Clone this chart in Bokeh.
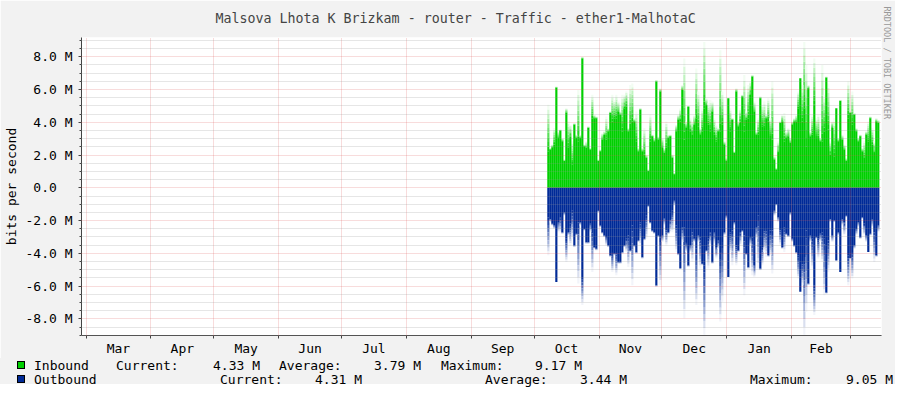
import numpy as np
from bokeh.plotting import figure
from bokeh.layouts import column
from bokeh.models import Range1d, FixedTicker, Title, Div
from bokeh.embed import file_html
from bokeh.resources import INLINE

title = "Malsova Lhota K Brizkam - router - Traffic - ether1-MalhotaC"
y_label = "bits per second"
credit = "RRDTOOL / TOBI OETIKER"

# x axis: days counted from 1 Mar, one year of months
month_labels = ["Mar", "Apr", "May", "Jun", "Jul", "Aug", "Sep", "Oct", "Nov", "Dec", "Jan", "Feb"]
month_days = [31, 30, 31, 30, 31, 31, 30, 31, 30, 31, 31, 28]

y_ticks = [-8, -6, -4, -2, 0, 2, 4, 6, 8]
y_tick_labels = ["-8.0 M", "-6.0 M", "-4.0 M", "-2.0 M", "0.0\u00a0\u00a0", "2.0 M", "4.0 M", "6.0 M", "8.0 M"]

# samples start on ~8 Oct, one per ~0.955 day, values in Mbit/s
first_day = 220.8
sample_days = 0.955

in_avg = [
    2.23, 2.33, 2.48, 2.64, 6.11, 3.04, 3.49, 2.84, 1.63, 4.56,
    2.44, 3.04, 1.43, 3.85, 3.04, 2.84, 3.04, 7.89, 2.54, 2.44,
    3.65, 2.33, 4.25, 4.25, 4.25, 1.63, 2.23, 2.94, 3.24, 2.94,
    3.45, 4.56, 4.05, 4.25, 4.25, 4.66, 4.46, 3.45, 4.86, 4.96,
    3.45, 3.65, 4.05, 4.05, 2.84, 2.23, 4.76, 2.23, 2.03, 1.83,
    1.02, 2.84, 3.14, 2.84, 6.48, 2.94,
    5.87, 2.44, 2.13, 2.44, 3.04, 3.14, 1.83, 0.82, 3.45, 4.15,
    4.05, 5.97, 2.94, 3.65, 4.96, 3.45, 3.24, 3.85, 4.25, 3.75,
    3.24, 3.45, 4.86, 5.06, 3.85, 3.45, 4.66, 3.24, 2.84, 3.45,
    3.45, 3.85, 2.64, 1.63, 5.47, 3.45, 4.15, 2.13, 5.87, 3.75,
    3.95, 5.57, 3.45, 4.15, 4.25, 5.67, 6.78, 4.66, 3.24, 3.24,
    5.47, 3.75, 3.65, 4.25, 4.05,
    3.04, 2.94, 1.73, 1.12, 2.13, 3.95, 4.05, 2.84, 3.04, 3.14,
    2.74, 3.85, 4.05, 4.05, 4.86, 6.68, 4.05, 4.86, 2.54, 6.07,
    3.14, 3.24, 5.06, 3.04, 3.04, 2.84, 2.84, 3.45, 6.72, 3.55,
    2.03, 3.65, 1.93, 4.86, 2.84, 5.30, 2.94, 2.33, 1.63, 4.25,
    4.56, 3.85, 4.46, 3.45, 2.84, 3.14, 2.23, 1.83, 3.24, 2.84,
    4.25, 2.64, 2.13, 4.05, 3.95,
]
in_max = [
    5.06, 2.44, 2.64, 3.65, 6.17, 3.45, 3.55, 3.04, 1.73, 4.86,
    4.05, 3.85, 2.84, 3.95, 3.24, 5.97, 3.24, 7.99, 2.64, 2.84,
    3.75, 2.44, 5.67, 4.46, 4.35, 1.73, 2.33, 3.34, 3.45, 4.35,
    3.65, 4.66, 5.67, 5.36, 5.67, 5.26, 4.66, 5.67, 5.67, 5.87,
    3.65, 6.27, 6.37, 4.25, 4.66, 2.44, 4.86, 2.44, 3.65, 2.03,
    1.12, 4.46, 3.24, 3.04, 6.58, 3.14,
    6.07, 3.04, 2.44, 4.05, 3.24, 3.24, 2.03, 0.92, 3.85, 4.46,
    4.86, 6.27, 7.89, 4.05, 4.96, 4.25, 4.05, 4.46, 7.28, 5.87,
    3.65, 4.86, 8.90, 5.47, 5.16, 5.36, 5.26, 4.25, 3.85, 3.65,
    8.39, 5.87, 2.84, 1.83, 5.47, 4.86, 4.25, 2.23, 6.07, 4.05,
    4.86, 5.67, 6.88, 4.66, 6.27, 6.48, 6.88, 5.26, 3.45, 4.25,
    5.57, 5.06, 5.26, 4.46, 5.47,
    4.25, 6.48, 1.93, 1.22, 2.84, 4.05, 4.46, 4.56, 3.45, 3.65,
    3.04, 4.05, 4.25, 4.46, 5.87, 6.68, 6.27, 8.90, 7.49, 6.27,
    3.45, 4.46, 7.89, 4.25, 4.46, 3.04, 7.49, 5.67, 6.78, 6.37,
    2.84, 4.05, 4.25, 4.86, 3.04, 5.36, 3.24, 2.64, 1.83, 6.48,
    4.66, 5.87, 4.56, 3.65, 3.04, 3.24, 2.44, 2.84, 3.45, 4.05,
    4.35, 3.65, 2.84, 4.25, 4.15,
]
out_avg = [
    1.80, 1.90, 2.20, 2.30, 5.74, 2.10, 1.80, 2.71, 1.50, 3.11,
    2.71, 2.20, 1.40, 3.52, 2.81, 2.10, 2.10, 5.44, 2.51, 3.31,
    3.31, 2.20, 2.51, 3.62, 3.72, 1.40, 2.30, 2.71, 2.91, 3.01,
    3.52, 4.12, 3.92, 4.02, 3.92, 4.53, 4.53, 3.92, 3.52, 3.11,
    2.91, 3.82, 2.30, 3.52, 3.92, 3.21, 2.10, 4.22, 3.11, 1.70,
    1.09, 2.10, 2.61, 2.71, 5.94, 2.91,
    3.01, 2.91, 1.84, 2.51, 2.71, 1.90, 1.40, 0.79, 2.30, 4.02,
    4.93, 2.41, 2.41, 3.31, 4.73, 3.52, 2.51, 3.11, 3.72, 2.91,
    3.01, 4.63, 4.73, 3.82, 3.11, 2.71, 4.53, 2.71, 3.62, 3.21,
    3.92, 3.31, 2.71, 1.70, 5.44, 2.71, 2.61, 2.10, 3.52, 3.82,
    2.71, 2.61, 2.91, 4.02, 4.83, 3.01, 3.01, 4.73, 2.41, 1.70,
    4.93, 3.62, 2.51, 2.51, 4.12,
    2.61, 2.61, 1.40, 0.99, 1.80, 2.51, 3.62, 2.41, 2.81, 2.91,
    1.50, 3.11, 3.52, 3.92, 4.12, 6.34, 4.53, 4.22, 2.61, 5.84,
    2.91, 3.11, 5.94, 3.01, 3.11, 2.81, 2.71, 3.11, 6.39, 3.21,
    1.90, 2.91, 2.00, 4.43, 2.71, 5.13, 1.90, 2.10, 1.70, 4.12,
    4.28, 3.92, 3.52, 2.51, 2.10, 3.01, 1.80, 2.20, 2.91, 3.92,
    2.81, 1.90, 2.51, 4.12, 2.30,
]
out_max = [
    4.12, 2.10, 2.30, 2.51, 5.74, 2.71, 2.71, 2.81, 1.70, 4.53,
    2.91, 3.52, 3.11, 3.62, 2.91, 5.84, 2.30, 7.15, 2.61, 3.42,
    3.42, 2.71, 5.13, 3.72, 3.82, 1.50, 2.41, 2.81, 3.01, 3.52,
    3.62, 4.22, 5.13, 4.12, 5.33, 4.63, 4.63, 4.02, 3.62, 3.92,
    4.83, 3.92, 5.94, 3.62, 4.02, 3.31, 3.52, 4.32, 3.21, 3.11,
    1.19, 2.20, 2.71, 2.81, 6.04, 3.01,
    5.94, 3.31, 2.30, 3.52, 2.81, 2.71, 2.71, 1.09, 3.92, 4.12,
    4.93, 3.31, 7.96, 3.92, 4.83, 3.92, 4.53, 3.31, 7.15, 3.31,
    4.93, 4.73, 8.97, 3.92, 4.93, 3.52, 4.63, 3.42, 4.32, 3.72,
    8.16, 6.95, 2.91, 1.90, 5.44, 3.92, 4.73, 2.30, 4.73, 3.92,
    3.52, 2.71, 6.55, 4.12, 4.93, 3.52, 5.33, 5.44, 3.11, 4.93,
    5.03, 4.73, 3.92, 4.22, 4.22,
    4.12, 5.23, 1.70, 1.09, 2.10, 3.52, 3.72, 3.92, 2.91, 3.01,
    1.70, 3.31, 3.62, 4.02, 5.54, 6.34, 5.94, 8.97, 7.56, 5.94,
    3.31, 4.93, 7.76, 3.11, 4.32, 3.31, 4.53, 6.55, 6.45, 5.13,
    2.10, 3.31, 2.10, 4.43, 2.91, 5.13, 2.30, 2.91, 1.80, 5.94,
    4.32, 5.54, 3.72, 2.91, 2.41, 3.11, 1.90, 2.91, 3.31, 3.92,
    2.91, 2.41, 4.53, 4.22, 2.71,
]

# legend
series_names = ["Inbound", "Outbound"]
series_colors = ["#00CF00", "#002A97"]
current = ["4.33 M", "4.31 M"]
average = ["3.79 M", "3.44 M"]
maximum = ["9.17 M", "9.05 M"]

FONT = "DejaVu Sans Mono"
BACK = "#F2F2F2"
MGRID = "#DE4F4F"
GRID = "#8F8F8F"

month_starts = np.concatenate([[0], np.cumsum(month_days)])
month_mids = month_starts[:-1] + np.array(month_days) / 2

p = figure(
    width=895,
    height=358,
    x_range=Range1d(-2.15, 379.9),
    y_range=Range1d(-9.01, 9.17),
    output_backend="svg",
    toolbar_location=None,
    min_border_left=81,
    min_border_right=14,
    min_border_top=36,
    min_border_bottom=22,
    border_fill_color=BACK,
    background_fill_color="white",
    outline_line_color=None,
)
p.title.text = title
p.title.align = "left"
p.title.offset = 134
p.title.vertical_align = "top"
p.title.standoff = 20
p.title.text_font = FONT
p.title.text_font_size = "13.3px"
p.title.text_font_style = "normal"

p.add_layout(Title(text=credit, align="left", offset=-31, standoff=0,
                   text_font=FONT, text_font_size="8.5px", text_font_style="normal",
                   text_color="#999999"), "right")

# traffic: solid average, fading up to the maximum
x = first_day + sample_days * np.arange(len(in_avg))


def mix(color, t):
    rgb = [int(color[i:i + 2], 16) for i in (1, 3, 5)]
    return "#%02x%02x%02x" % tuple(int(round(c + (255 - c) * t)) for c in rgb)


bands = 10
for avg, mx, sign, color in [(in_avg, in_max, 1, series_colors[0]), (out_avg, out_max, -1, series_colors[1])]:
    avg = np.array(avg)
    mx = np.array(mx)
    for j in range(bands):
        lo = avg + (mx - avg) * j / bands
        hi = avg + (mx - avg) * (j + 1) / bands
        p.vbar(x=x, bottom=sign * lo, top=sign * hi, width=sample_days * 1.08,
               fill_color=mix(color, (j + 0.5) / bands), line_color=None)
    p.vbar(x=x, bottom=0, top=sign * avg, width=sample_days * 1.08,
           fill_color=color, line_color=None)

# axes
p.xaxis.ticker = FixedTicker(ticks=list(month_mids), minor_ticks=list(month_starts))
p.xaxis.major_label_overrides = {float(m): lbl for m, lbl in zip(month_mids, month_labels)}
p.xaxis.major_tick_out = 0
p.xaxis.major_tick_in = 0
p.xaxis.minor_tick_out = 3
p.xaxis.minor_tick_in = 0
p.xaxis.major_label_standoff = 2

minor_y = [v / 2 for v in range(-18, 19) if v % 4 != 0]
p.yaxis.ticker = FixedTicker(ticks=y_ticks, minor_ticks=minor_y)
p.yaxis.major_label_overrides = dict(zip(y_ticks, y_tick_labels))
p.yaxis.major_tick_out = 3
p.yaxis.major_tick_in = 0
p.yaxis.minor_tick_out = 2
p.yaxis.minor_tick_in = 0
p.yaxis.major_label_standoff = 6
p.yaxis.axis_label = y_label
p.yaxis.axis_label_standoff = 4
p.yaxis.axis_label_text_font = FONT
p.yaxis.axis_label_text_font_size = "13px"
p.yaxis.axis_label_text_font_style = "normal"
p.yaxis.axis_label_text_color = "black"

for ax in (p.xaxis, p.yaxis):
    ax.axis_line_color = "#444444"
    ax.major_tick_line_color = "#444444"
    ax.minor_tick_line_color = "#444444"
    ax.major_label_text_font = FONT
    ax.major_label_text_font_size = "13px"
    ax.major_label_text_color = "black"

# grid drawn on top of the data, as rrdtool does
p.xgrid.ticker = FixedTicker(ticks=list(month_starts))
for g in (p.xgrid, p.ygrid):
    g.grid_line_color = MGRID
    g.grid_line_alpha = 0.4
    g.grid_line_dash = "1 1"
    g.level = "guide"
p.ygrid.minor_grid_line_color = GRID
p.ygrid.minor_grid_line_alpha = 0.45
p.ygrid.minor_grid_line_dash = "1 1"

# legend strip under the graph (pixel layout inside the strip)
rows = [8, 22]
cols = [(34, 116, 213, 279, 374, 441, 535), (34, 220, 315, 485, 580, 750, 846)]
cells = []
for i, name in enumerate(series_names):
    cy = rows[i]
    cells.append(
        f'<div style="position:absolute;left:17px;top:{cy - 5}px;width:8px;height:8px;'
        f'background:{series_colors[i]};border:1px solid #000"></div>'
    )
    parts = [name, "Current:", current[i], "Average:", average[i], "Maximum:", maximum[i]]
    for px, txt in zip(cols[i], parts):
        cells.append(
            f'<div style="position:absolute;left:{px}px;top:{cy - 8}px;'
            f'line-height:16px;white-space:pre">{txt}</div>'
        )
html = (
    f'<div style="position:relative;width:895px;height:26px;background:{BACK};'
    f"font-family:'{FONT}';font-size:13px;color:#000;overflow:visible\">"
    + "".join(cells)
    + "</div>"
)
legend = Div(text=html, width=895, height=26, margin=0)

open("out.html", "w").write(file_html(column(p, legend, spacing=0), INLINE))
